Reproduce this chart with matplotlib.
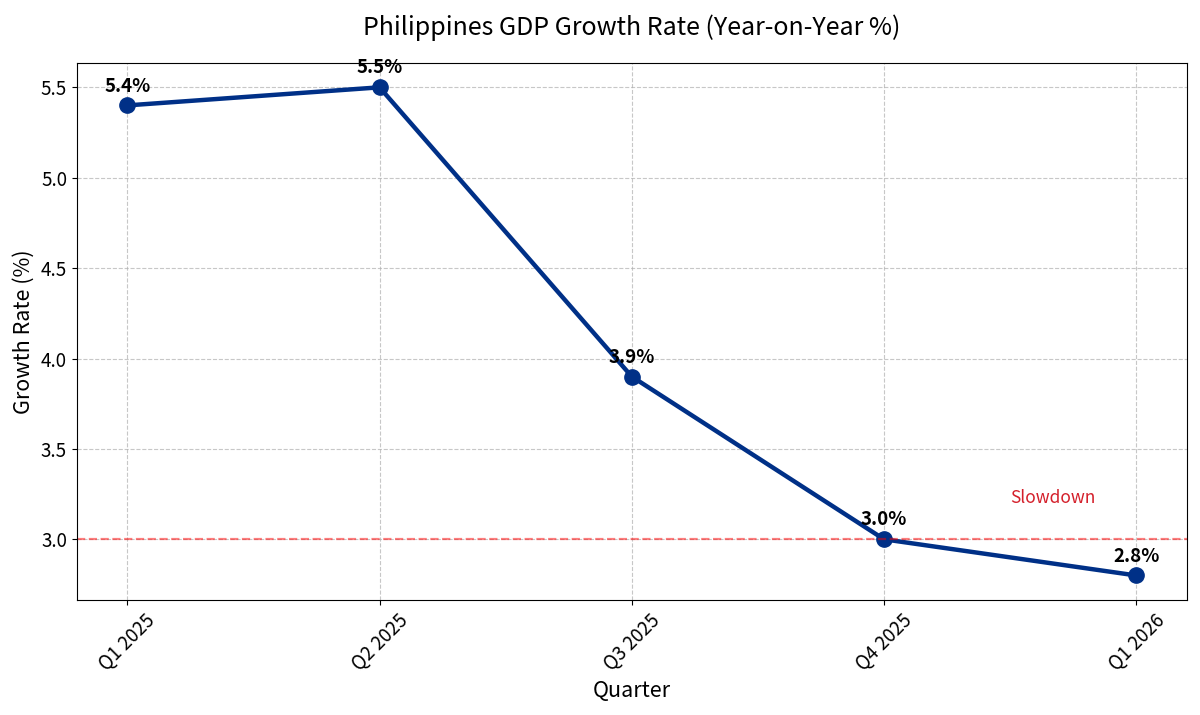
import matplotlib
matplotlib.use("Agg")
import matplotlib.pyplot as plt

plt.rcParams["font.family"] = ["Noto Sans CJK SC", "DejaVu Sans"]

quarters = ["Q1 2025", "Q2 2025", "Q3 2025", "Q4 2025", "Q1 2026"]
growth = [5.4, 5.5, 3.9, 3.0, 2.8]
threshold = 3.0

fig, ax = plt.subplots(figsize=(12, 7.15), dpi=100)
fig.subplots_adjust(left=0.064, right=0.989, top=0.912, bottom=0.161)

x = list(range(len(quarters)))
ax.plot(x, growth, color="#003087", linewidth=3.2, marker="o", markersize=11)

for xi, v in zip(x, growth):
    ax.annotate(f"{v:.1f}%", (xi, v), textcoords="offset points", xytext=(0, 10),
                ha="center", fontsize=13.5, fontweight="bold")

ax.axhline(threshold, color="red", linestyle="--", alpha=0.5, linewidth=1.6)
ax.text(3.5, 3.2, "Slowdown", color="#d41f2a", fontsize=12.5)

ax.set_xticks(x)
ax.set_xticklabels(quarters, rotation=45, fontsize=13.5)
ax.tick_params(axis="y", labelsize=13.5)
ax.set_title("Philippines GDP Growth Rate (Year-on-Year %)", fontsize=18, pad=20)
ax.set_xlabel("Quarter", fontsize=15.5)
ax.set_ylabel("Growth Rate (%)", fontsize=15.5)
ax.grid(True, linestyle="--", alpha=0.7)

fig.savefig("out.png", dpi=100)
